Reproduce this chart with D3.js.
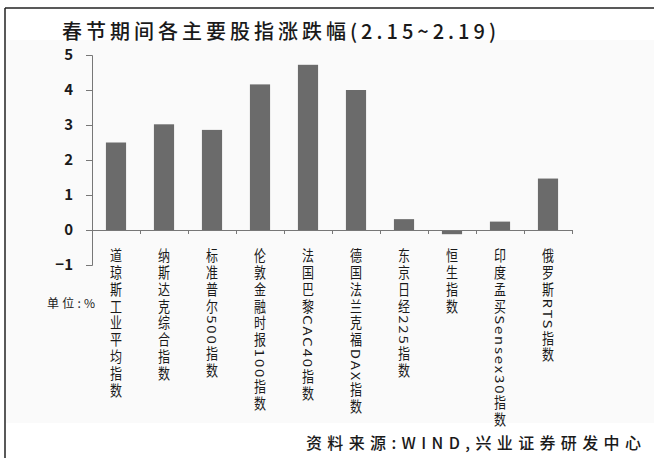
<!DOCTYPE html>
<meta charset="utf-8">
<head>
  <script src="https://d3js.org/d3.v7.min.js"></script>
  <style>
    body { margin: 0; background: #fff; }
    text { font-family: "Noto Sans CJK SC", "Liberation Sans", sans-serif; fill: #1a1a1a; }
  </style>
</head>
<body>
<div id="viz"></div>
<script>
// category names (index labels) and weekly change in %
var categories = ["道琼斯工业平均指数", "纳斯达克综合指数", "标准普尔500指数", "伦敦金融时报100指数",
  "法国巴黎CAC40指数", "德国法兰克福DAX指数", "东京日经225指数", "恒生指数",
  "印度孟买Sensex30指数", "俄罗斯RTS指数"];
var values = [2.5, 3.02, 2.86, 4.16, 4.72, 4.0, 0.31, -0.12, 0.24, 1.47];
var yTicks = [-1, 0, 1, 2, 3, 4, 5];

var W = 654, H = 458;
var svg = d3.select("#viz").append("svg")
  .attr("width", W)
  .attr("height", H);

// faint panel + frame lines (left and top only)
svg.append("rect").attr("x", 6).attr("y", 40).attr("width", 648).attr("height", 383).attr("fill", "#fafafa");
svg.append("line").attr("x1", 5).attr("x2", 5).attr("y1", 8).attr("y2", H).attr("stroke", "#222").attr("stroke-width", 1.5);
svg.append("line").attr("x1", 5).attr("x2", W).attr("y1", 8).attr("y2", 8).attr("stroke", "#222").attr("stroke-width", 1.5);

// title
svg.append("text")
  .attr("x", 62).attr("y", 39)
  .attr("font-size", 20)
  .attr("font-weight", 500)
  .attr("textLength", 434).attr("lengthAdjust", "spacing")
  .text("春节期间各主要股指涨跌幅(2.15~2.19)");

var x = d3.scaleBand().domain(categories).range([92, 572]).paddingInner(0.58).paddingOuter(0.29);
var y = d3.scaleLinear().domain([-1, 5]).range([265, 55]);

// y axis
var yAxis = svg.append("g")
  .attr("transform", "translate(92,0)")
  .call(d3.axisLeft(y).tickValues(yTicks).tickSize(6).tickPadding(13).tickFormat(d3.format("d")));
yAxis.select(".domain").attr("stroke", "#777");
yAxis.selectAll(".tick line").attr("stroke", "#777");
yAxis.selectAll(".tick text")
  .attr("font-family", "Liberation Sans, Arial, sans-serif")
  .attr("font-size", 15).attr("font-weight", "bold").attr("fill", "#222");

// bars
svg.selectAll(".bar")
  .data(values)
  .enter().append("rect")
  .attr("class", "bar")
  .attr("x", function(d, i) { return x(categories[i]); })
  .attr("y", function(d) { return y(Math.max(d, 0)); })
  .attr("width", x.bandwidth())
  .attr("height", function(d) { return Math.abs(y(d) - y(0)); })
  .attr("fill", "#6b6b6b");

// x axis at zero with boundary ticks pointing down
var xb = d3.scaleLinear().domain([0, categories.length]).range([92, 572]);
var xAxis = svg.append("g")
  .attr("transform", "translate(0," + y(0) + ")")
  .call(d3.axisBottom(xb).ticks(categories.length).tickSize(4).tickFormat(""));
xAxis.select(".domain").attr("stroke", "#777");
xAxis.selectAll(".tick line").attr("stroke", "#777");

// vertical category labels
svg.selectAll(".cat")
  .data(categories)
  .enter().append("text")
  .attr("class", "cat")
  .attr("transform", function(d) {
    return "translate(" + (x(d) + x.bandwidth() / 2) + ",248) scale(0.8,1)";
  })
  .style("writing-mode", "vertical-rl")
  .style("text-orientation", "mixed")
  .attr("font-size", 15)
  .attr("letter-spacing", 1.8)
  .attr("fill", "#2a2a2a")
  .text(function(d) { return d; });

// unit
svg.append("text")
  .attr("x", 47).attr("y", 308)
  .attr("font-size", 12)
  .attr("textLength", 48).attr("lengthAdjust", "spacing")
  .text("单位:%");

// source
svg.append("text")
  .attr("x", 641).attr("y", 449)
  .attr("text-anchor", "end")
  .attr("font-size", 16)
  .attr("font-weight", 500)
  .attr("textLength", 335).attr("lengthAdjust", "spacing")
  .text("资料来源:WIND,兴业证券研发中心");
</script>
</body>
